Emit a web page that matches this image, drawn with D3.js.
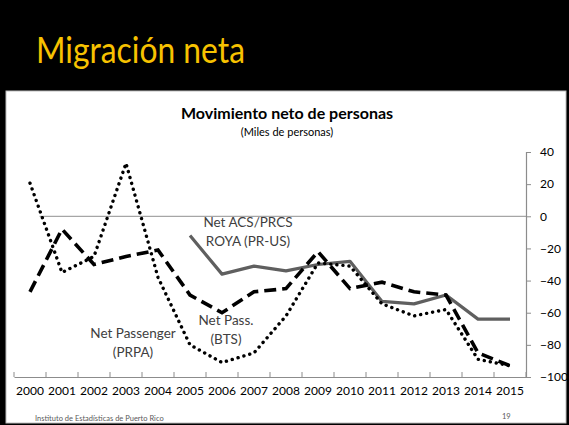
<!DOCTYPE html>
<html>
<head>
<meta charset="utf-8">
<script src="https://cdnjs.cloudflare.com/ajax/libs/d3/7.8.5/d3.min.js"></script>
<style>
  body { margin: 0; background: #000; }
  svg { display: block; font-family: Lato, "Open Sans", sans-serif; }
</style>
</head>
<body>
<script>
// data (miles de personas)
var years = ["2000","2001","2002","2003","2004","2005","2006","2007","2008","2009","2010","2011","2012","2013","2014","2015"];
var prpa = [20.6, -35, -25, 33, -38, -80, -91, -85, -62, -29, -31, -54.5, -62, -58, -89, -93];
var bts  = [-47, -8, -30, -25, -21, -49, -60, -47, -45, -22, -45, -41, -47, -49, -85, -93];
var acs  = [null, null, null, null, null, -12, -36, -31, -34, -30, -28, -53, -54.5, -49, -64, -64];
var yTicks = [40, 20, 0, -20, -40, -60, -80, -100];

var width = 569, height = 425;
var plot = {left: 14, right: 526, top: 152, bottom: 377};

var svg = d3.select("body").append("svg").attr("width", width).attr("height", height);

// slide background
svg.append("rect").attr("width", width).attr("height", height).attr("fill", "#000");
svg.append("rect").attr("x", 6).attr("y", 91).attr("width", 560).attr("height", 332)
    .attr("fill", "#fff").attr("stroke", "#bdbdbd").attr("stroke-width", 1);

svg.append("text").attr("x", 36).attr("y", 63)
    .attr("fill", "#f7c200").attr("font-size", 37)
    .attr("textLength", 209).attr("lengthAdjust", "spacingAndGlyphs")
    .text("Migración neta");

// chart titles
svg.append("text").attr("x", 287).attr("y", 119).attr("text-anchor", "middle")
    .attr("font-weight", "bold").attr("font-size", 16).attr("fill", "#000")
    .text("Movimiento neto de personas");
svg.append("text").attr("x", 287).attr("y", 136).attr("text-anchor", "middle")
    .attr("font-size", 11).attr("fill", "#000")
    .text("(Miles de personas)");

var x = d3.scaleBand().domain(years).range([plot.left, plot.right]).padding(0);
var y = d3.scaleLinear().domain([-100, 40]).range([plot.bottom, plot.top]);
var cx = function(d, i){ return x(years[i]) + x.bandwidth() / 2; };

// zero reference line
svg.append("line")
    .attr("x1", x(years[0]) + x.bandwidth() * 0.8).attr("x2", plot.right)
    .attr("y1", y(0)).attr("y2", y(0))
    .attr("stroke", "#a6a6a6").attr("stroke-width", 1.2);

// y axis on the right
var yAxis = d3.axisRight(y).tickValues(yTicks).tickSize(5).tickPadding(9);
var gy = svg.append("g").attr("transform", "translate(" + plot.right + ",0)").call(yAxis);
gy.select(".domain").attr("stroke", "#8c8c8c").attr("stroke-width", 1.2);
gy.selectAll(".tick line").attr("stroke", "#8c8c8c");
gy.selectAll("text").attr("font-size", 12).attr("fill", "#000")
    .attr("font-family", "Lato, sans-serif");

// x axis at the bottom, ticks between categories
var xAxis = d3.axisBottom(x).tickSize(0).tickPadding(9);
var gx = svg.append("g").attr("transform", "translate(0," + plot.bottom + ")").call(xAxis);
gx.select(".domain").attr("stroke", "#8c8c8c").attr("stroke-width", 1.2);
gx.selectAll("text").attr("font-size", 12).attr("fill", "#000")
    .attr("font-family", "Lato, sans-serif");
var bounds = years.map(function(d){ return x(d); }).concat([x.range()[1]]);
gx.selectAll(".bound").data(bounds).enter().append("line")
    .attr("x1", function(d){ return d; }).attr("x2", function(d){ return d; })
    .attr("y1", 0).attr("y2", -5)
    .attr("stroke", "#8c8c8c").attr("stroke-width", 1);

// series
var line = d3.line()
    .defined(function(d){ return d != null; })
    .x(cx)
    .y(function(d){ return y(d); });

svg.append("path").attr("d", line(acs))
    .attr("fill", "none").attr("stroke", "#5f5f5f").attr("stroke-width", 3.2)
    .attr("stroke-linejoin", "round");

svg.append("path").attr("d", line(bts))
    .attr("fill", "none").attr("stroke", "#000").attr("stroke-width", 3.6)
    .attr("stroke-dasharray", "12,6");

svg.append("path").attr("d", line(prpa))
    .attr("fill", "none").attr("stroke", "#000").attr("stroke-width", 3.4)
    .attr("stroke-linecap", "round").attr("stroke-dasharray", "0.1,6");

// series labels
function label(lines, xc, yc){
    var t = svg.append("text").attr("text-anchor", "middle")
        .attr("font-size", 13.5).attr("fill", "#404040");
    lines.forEach(function(s, i){
        t.append("tspan").attr("x", xc).attr("y", yc + i * 19).text(s);
    });
}
label(["Net ACS/PRCS", "ROYA (PR-US)"], 248, 227);
label(["Net Pass.", "(BTS)"], 226, 325);
label(["Net Passenger", "(PRPA)"], 133, 338);

// footer
svg.append("text").attr("x", 35).attr("y", 421).attr("font-size", 7.5).attr("fill", "#595959")
    .text("Instituto de Estadísticas de Puerto Rico");
svg.append("text").attr("x", 502).attr("y", 419).attr("font-size", 7.5).attr("fill", "#595959")
    .text("19");
</script>
</body>
</html>
